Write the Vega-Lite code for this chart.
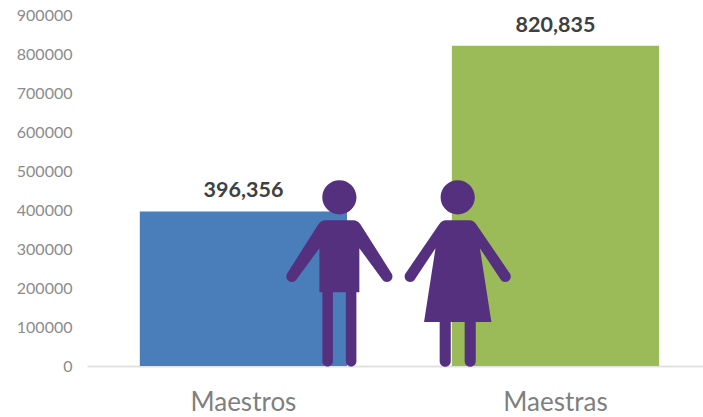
{"$schema":"https://vega.github.io/schema/vega-lite/v6.json","width":616,"height":351,"autosize":{"type":"none"},"padding":{"left":87,"top":15,"right":0,"bottom":51},"background":"white","config":{"view":{"stroke":null},"font":"Lato"},"resolve":{"scale":{"x":"independent"},"axis":{"x":"independent"}},"layer":[{"data":{"values":[{"grupo":"Maestros","total":396356},{"grupo":"Maestras","total":820835}]},"mark":{"type":"bar"},"encoding":{"x":{"field":"grupo","type":"nominal","sort":["Maestros","Maestras"],"scale":{"type":"band","paddingInner":0.336,"paddingOuter":0.155,"align":0.546},"axis":{"title":null,"labelAngle":0,"ticks":false,"domainColor":"#e2e2e2","domainWidth":2,"labelFontSize":26,"labelColor":"#7f7f7f","labelPadding":23,"labelFont":"Lato"}},"y":{"field":"total","type":"quantitative","scale":{"domain":[0,900000],"nice":false},"axis":{"title":null,"tickCount":10,"values":[0,100000,200000,300000,400000,500000,600000,700000,800000,900000],"format":"d","grid":false,"domain":false,"ticks":false,"labelFontSize":16,"labelColor":"#8c8c8c","labelPadding":15,"labelOverlap":false}},"color":{"field":"grupo","type":"nominal","scale":{"domain":["Maestros","Maestras"],"range":["#4a7ebb","#9bbb59"]},"legend":null}}},{"data":{"values":[{"grupo":"Maestros","total":396356},{"grupo":"Maestras","total":820835}]},"mark":{"type":"text","dy":-20,"baseline":"middle","fontWeight":"bold","fontSize":21.5,"color":"#404040"},"encoding":{"x":{"field":"grupo","type":"nominal","sort":["Maestros","Maestras"],"scale":{"type":"band","paddingInner":0.336,"paddingOuter":0.155,"align":0.546},"axis":null},"y":{"field":"total","type":"quantitative","axis":{"title":null,"tickCount":10,"values":[0,100000,200000,300000,400000,500000,600000,700000,800000,900000],"format":"d","grid":false,"domain":false,"ticks":false,"labelFontSize":16,"labelColor":"#8c8c8c","labelPadding":15,"labelOverlap":false}},"text":{"field":"total","type":"quantitative","format":","}}},{"data":{"values":[{"figura":"hombre","posicion":0.4097,"total":238000},{"figura":"mujer","posicion":0.6018,"total":238000}]},"mark":{"type":"point","filled":true,"opacity":1,"color":"#54307f","size":34225},"encoding":{"x":{"field":"posicion","type":"quantitative","scale":{"domain":[0,1]},"axis":null},"y":{"field":"total","type":"quantitative","axis":{"title":null,"tickCount":10,"values":[0,100000,200000,300000,400000,500000,600000,700000,800000,900000],"format":"d","grid":false,"domain":false,"ticks":false,"labelFontSize":16,"labelColor":"#8c8c8c","labelPadding":15,"labelOverlap":false}},"shape":{"field":"figura","type":"nominal","legend":null,"scale":{"domain":["hombre","mujer"],"range":["M-.185,-.82A.185,.185 0 1 1 .185,-.82A.185,.185 0 1 1 -.185,-.82ZM-.151,-.573L.151,-.573Q.195,-.573 .227,-.53L.568,.009A.06,.06 0 0 1 .466,.071L.216,-.27L.216,.205L.184,.205L.184,.951A.057,.057 0 0 1 .07,.951L.07,.205L-.07,.205L-.07,.951A.057,.057 0 0 1 -.184,.951L-.184,.205L-.216,.205L-.216,-.27L-.466,.071A.06,.06 0 0 1 -.568,.009L-.227,-.53Q-.195,-.573 -.151,-.573Z","M-.185,-.82A.185,.185 0 1 1 .185,-.82A.185,.185 0 1 1 -.185,-.82ZM-.13,-.573L.13,-.573Q.17,-.573 .2,-.53L.568,.009A.06,.06 0 0 1 .466,.071L.24,-.27L.364,.527L.195,.527L.195,.951A.06,.06 0 0 1 .075,.951L.075,.527L-.075,.527L-.075,.951A.06,.06 0 0 1 -.195,.951L-.195,.527L-.364,.527L-.24,-.27L-.466,.071A.06,.06 0 0 1 -.568,.009L-.2,-.53Q-.17,-.573 -.13,-.573Z"]}}}}]}
